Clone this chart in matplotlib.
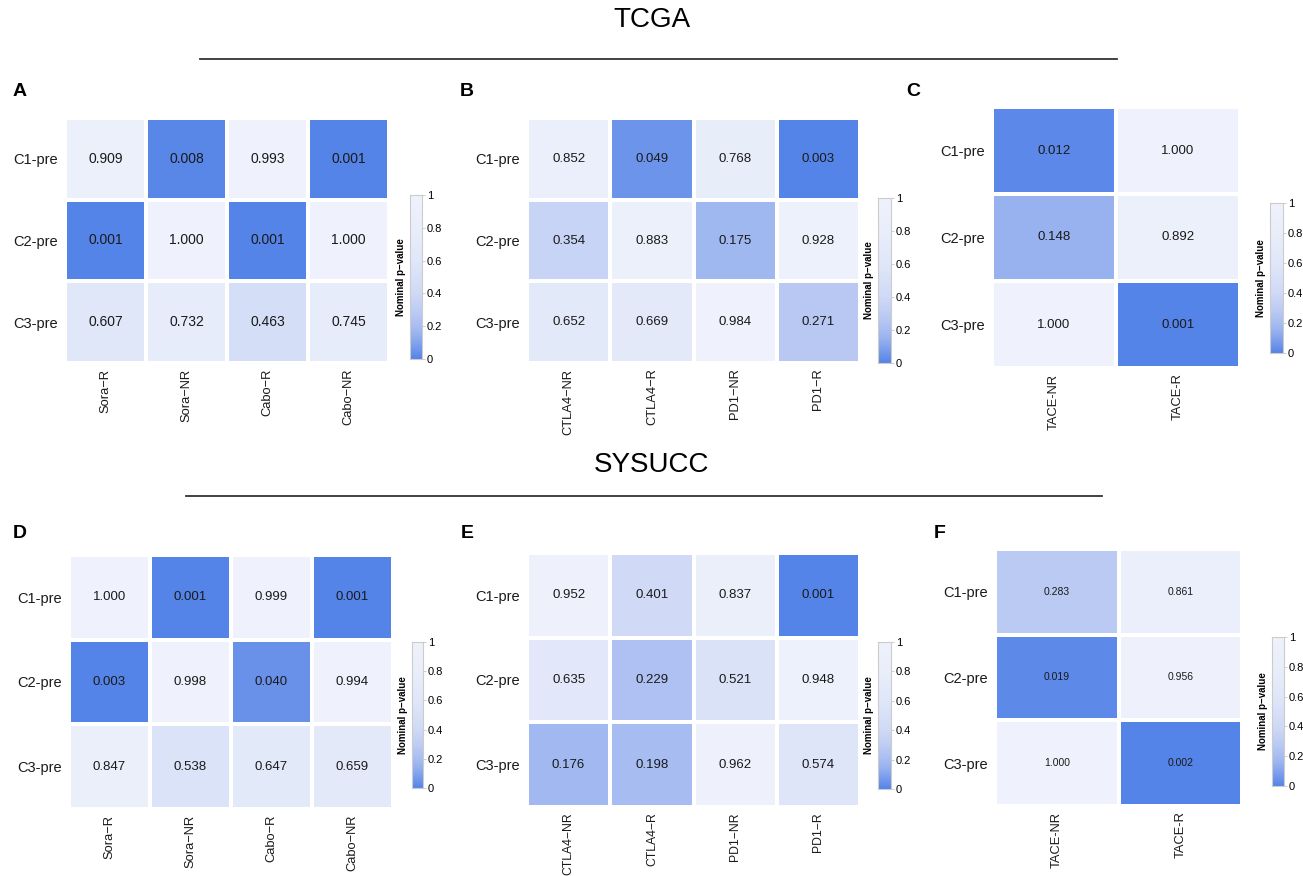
import numpy as np
import matplotlib
matplotlib.use("Agg")
import matplotlib.pyplot as plt
from matplotlib.colors import LinearSegmentedColormap

W, H = 1303, 876
plt.rcParams["font.family"] = ["Liberation Sans", "DejaVu Sans"]

ROWS = ["C1-pre", "C2-pre", "C3-pre"]

COLS_A = ["Sora\u2212R", "Sora\u2212NR", "Cabo\u2212R", "Cabo\u2212NR"]
VALS_A = [[0.909, 0.008, 0.993, 0.001],
          [0.001, 1.000, 0.001, 1.000],
          [0.607, 0.732, 0.463, 0.745]]

COLS_B = ["CTLA4\u2212NR", "CTLA4\u2212R", "PD1\u2212NR", "PD1\u2212R"]
VALS_B = [[0.852, 0.049, 0.768, 0.003],
          [0.354, 0.883, 0.175, 0.928],
          [0.652, 0.669, 0.984, 0.271]]

COLS_C = ["TACE-NR", "TACE-R"]
VALS_C = [[0.012, 1.000],
          [0.148, 0.892],
          [1.000, 0.001]]

COLS_D = ["Sora\u2212R", "Sora\u2212NR", "Cabo\u2212R", "Cabo\u2212NR"]
VALS_D = [[1.000, 0.001, 0.999, 0.001],
          [0.003, 0.998, 0.040, 0.994],
          [0.847, 0.538, 0.647, 0.659]]

COLS_E = ["CTLA4\u2212NR", "CTLA4\u2212R", "PD1\u2212NR", "PD1\u2212R"]
VALS_E = [[0.952, 0.401, 0.837, 0.001],
          [0.635, 0.229, 0.521, 0.948],
          [0.176, 0.198, 0.962, 0.574]]

COLS_F = ["TACE-NR", "TACE-R"]
VALS_F = [[0.283, 0.861],
          [0.019, 0.956],
          [1.000, 0.002]]

CMAP = LinearSegmentedColormap.from_list("pval", [
    (0.00, "#5584E8"), (0.05, "#6E95EB"), (0.15, "#9AB3F0"),
    (0.20, "#A8BDF1"), (0.30, "#BFCDF4"), (0.40, "#D0DAF6"),
    (0.60, "#E0E7F9"), (0.80, "#E9EEFA"), (1.00, "#EFF2FC")])


def box(x0, y0, x1, y1):
    return [x0 / W, 1 - y1 / H, (x1 - x0) / W, (y1 - y0) / H]


def heat(fig, hm, cb, vals, cols, fs_cell, letter, lpos, fs_x=9.3):
    ax = fig.add_axes(box(*hm))
    data = np.array(vals)
    ax.pcolormesh(data, cmap=CMAP, vmin=0, vmax=1,
                  edgecolors="white", linewidth=1.5)
    ax.set_xlim(0, data.shape[1])
    ax.set_ylim(data.shape[0], 0)
    for i in range(data.shape[0]):
        for j in range(data.shape[1]):
            ax.text(j + 0.5, i + 0.5, f"{data[i, j]:.3f}", ha="center",
                    va="center", fontsize=fs_cell, color="#1a1a1a")
    ax.set_xticks(np.arange(data.shape[1]) + 0.5)
    ax.set_xticklabels(cols, rotation=90, fontsize=fs_x, color="#1a1a1a")
    ax.set_yticks(np.arange(data.shape[0]) + 0.5)
    ax.set_yticklabels(ROWS, fontsize=10.5, color="#1a1a1a")
    ax.tick_params(axis="y", length=0, pad=5)
    ax.tick_params(axis="x", length=0, pad=4)
    for s in ax.spines.values():
        s.set_visible(False)

    cax = fig.add_axes(box(*cb))
    grad = np.linspace(0, 1, 256).reshape(-1, 1)
    cax.imshow(grad, cmap=CMAP, aspect="auto", origin="lower",
               extent=[0, 1, 0, 1])
    cax.set_xticks([])
    cax.yaxis.tick_right()
    cax.set_yticks([0, 0.2, 0.4, 0.6, 0.8, 1])
    cax.set_yticklabels(["0", "0.2", "0.4", "0.6", "0.8", "1"], fontsize=8)
    cax.tick_params(axis="y", length=2, width=0.5, color="#bbbbbb", pad=1.5)
    for s in cax.spines.values():
        s.set_color("#cccccc")
        s.set_linewidth(0.8)
    cax.set_ylabel("Nominal p\u2212value", fontsize=7, fontweight="bold")
    cax.yaxis.set_label_position("left")
    cax.yaxis.labelpad = 3

    fig.text(lpos[0] / W, 1 - lpos[1] / H, letter, fontsize=14,
             fontweight="bold", ha="center", va="center")


fig = plt.figure(figsize=(W / 100, H / 100), dpi=100)

heat(fig, (65, 118, 389, 363), (410, 195, 422, 359), VALS_A, COLS_A, 10, "A", (20, 92))
heat(fig, (527, 118, 860, 363), (878, 198, 891, 363), VALS_B, COLS_B, 9.5, "B", (467, 92))
heat(fig, (992, 107, 1240, 368), (1270, 203, 1283, 353), VALS_C, COLS_C, 9.5, "C", (913, 92))
heat(fig, (69, 555, 393, 809), (412, 642, 423, 788), VALS_D, COLS_D, 9.5, "D", (20, 533))
heat(fig, (527, 553, 860, 807), (878, 642, 891, 789), VALS_E, COLS_E, 9.5, "E", (467, 533), fs_x=8.8)
heat(fig, (995, 549, 1242, 806), (1272, 637, 1284, 786), VALS_F, COLS_F, 7.5, "F", (940, 533))

fig.text(652 / W, 1 - 20 / H, "TCGA", fontsize=20, ha="center", va="center")
fig.add_artist(plt.Line2D([200 / W, 1117 / W], [1 - 59 / H, 1 - 59 / H],
                          color="#333333", lw=1.3))
fig.text(652 / W, 1 - 465 / H, "SYSUCC", fontsize=20, ha="center", va="center")
fig.add_artist(plt.Line2D([186 / W, 1102 / W], [1 - 496 / H, 1 - 496 / H],
                          color="#333333", lw=1.3))

fig.savefig("out.png", dpi=100, facecolor="white")
